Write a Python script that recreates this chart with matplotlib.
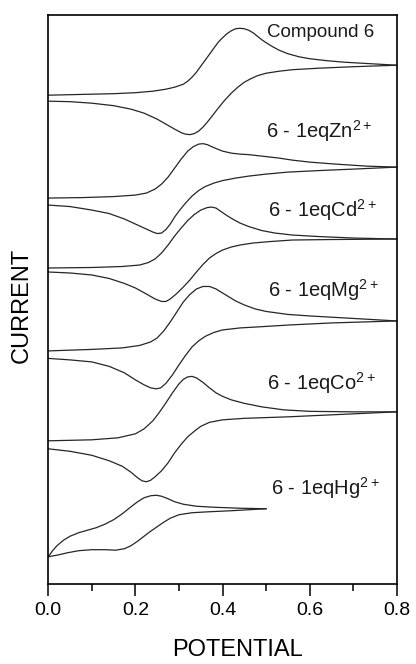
import matplotlib
matplotlib.use('Agg')
import matplotlib.pyplot as plt
from matplotlib.ticker import MultipleLocator

plt.rcParams['font.family'] = ['Liberation Sans', 'DejaVu Sans']
plt.rcParams['mathtext.default'] = 'regular'

# cyclic voltammograms, stacked (current in arbitrary units incl. offset)
# forward scan (upper branch) and reverse scan (lower branch) for each sample
labels = ['Compound 6', '6 - 1eqZn$^{2+}$', '6 - 1eqCd$^{2+}$',
          '6 - 1eqMg$^{2+}$', '6 - 1eqCo$^{2+}$', '6 - 1eqHg$^{2+}$']

# Compound 6
c6_up_x = [0.0, 0.05, 0.10, 0.15, 0.20, 0.24, 0.27, 0.29, 0.31, 0.32, 0.33, 0.34, 0.35, 0.36,
           0.37, 0.38, 0.39, 0.40, 0.41, 0.42, 0.43, 0.44, 0.45, 0.46, 0.47, 0.48, 0.49, 0.50,
           0.515, 0.53, 0.55, 0.575, 0.6, 0.64, 0.68, 0.74, 0.8]
c6_up_y = [489, 489.5, 490, 490.5, 491.5, 493, 495, 497, 500, 503, 507, 512, 518, 524,
           530, 536, 542, 546.5, 550.5, 553.5, 555.5, 556, 555.5, 554, 551.5, 548, 544.5, 541.5,
           537.5, 534, 530.5, 527.5, 525.5, 523.5, 522, 520.5, 519]
c6_dn_x = [0.0, 0.05, 0.10, 0.15, 0.19, 0.22, 0.25, 0.27, 0.29, 0.305, 0.315, 0.325, 0.335,
           0.345, 0.355, 0.365, 0.375, 0.39, 0.405, 0.42, 0.435, 0.45, 0.465, 0.48, 0.50,
           0.53, 0.56, 0.62, 0.7, 0.8]
c6_dn_y = [483, 482.5, 481, 478.5, 475, 471, 465, 460, 455, 451.5, 450, 449.5, 450.5,
           453, 457, 462, 467.5, 476, 484, 491, 497, 502, 505.5, 508.5, 511,
           513, 514.5, 516, 517.5, 519]

# 6 + Zn2+
zn_up_x = [0.0, 0.08, 0.15, 0.20, 0.225, 0.245, 0.26, 0.275, 0.29, 0.305, 0.32, 0.333, 0.345,
           0.355, 0.365, 0.38, 0.40, 0.42, 0.44, 0.46, 0.48, 0.50, 0.53, 0.56, 0.60, 0.66,
           0.73, 0.8]
zn_up_y = [386, 386.5, 387.5, 389, 391, 395, 400, 407, 416, 425, 433, 437.5, 440,
           440.5, 439.5, 436.5, 433, 431, 430, 429.5, 428.5, 427.5, 426, 424, 422, 420,
           418, 417]
zn_dn_x = [0.0, 0.05, 0.10, 0.14, 0.175, 0.20, 0.22, 0.24, 0.25, 0.26, 0.27, 0.28, 0.29,
           0.30, 0.315, 0.33, 0.345, 0.36, 0.38, 0.40, 0.43, 0.46, 0.50, 0.55, 0.62, 0.7, 0.8]
zn_dn_y = [379, 377.5, 374, 370.5, 365, 360, 356, 352, 350.5, 351, 354.5, 360, 367,
           373, 381, 388, 393.5, 397.5, 401, 403.5, 406, 408, 410, 412, 413.5, 415, 417]

# 6 + Cd2+
cd_up_x = [0.0, 0.10, 0.17, 0.21, 0.23, 0.245, 0.26, 0.275, 0.29, 0.305, 0.32, 0.335, 0.35,
           0.365, 0.375, 0.385, 0.395, 0.41, 0.425, 0.44, 0.46, 0.49, 0.52, 0.56, 0.62,
           0.7, 0.8]
cd_up_y = [316, 316.5, 317.5, 319, 321.5, 325, 331, 339, 348, 356, 363.5, 369.5, 374,
           376.5, 377, 376, 373, 368.5, 364.5, 361, 357.5, 353.5, 351, 349, 347.5,
           346, 345]
cd_dn_x = [0.0, 0.05, 0.10, 0.14, 0.175, 0.20, 0.225, 0.245, 0.26, 0.27, 0.28, 0.295, 0.31,
           0.325, 0.34, 0.355, 0.37, 0.385, 0.40, 0.42, 0.44, 0.47, 0.51, 0.56, 0.65, 0.8]
cd_dn_y = [312, 311, 309, 305.5, 300.5, 296, 290, 285, 282.5, 282.5, 285, 290.5, 297,
           304, 312, 319.5, 326, 330.5, 334, 337, 339, 341, 342.5, 344, 344.5, 345]

# 6 + Mg2+
mg_up_x = [0.0, 0.10, 0.17, 0.21, 0.235, 0.25, 0.265, 0.28, 0.295, 0.31, 0.325, 0.34, 0.355,
           0.37, 0.385, 0.40, 0.415, 0.43, 0.45, 0.475, 0.50, 0.55, 0.6, 0.7, 0.8]
mg_up_y = [233, 234.5, 236, 238.5, 242, 246, 253, 262, 272, 282, 289.5, 295, 297.5,
           297.5, 295, 291, 287, 283, 279, 275, 272.5, 269.5, 268, 265.5, 263]
mg_dn_x = [0.0, 0.05, 0.10, 0.14, 0.175, 0.20, 0.22, 0.235, 0.248, 0.258, 0.27, 0.285, 0.30,
           0.315, 0.33, 0.345, 0.36, 0.38, 0.40, 0.44, 0.48, 0.555, 0.65, 0.8]
mg_dn_y = [225.5, 224, 222, 217.5, 211, 204, 199, 196, 195, 196, 200.5, 209, 219,
           228.5, 237, 243, 247.5, 251.5, 254, 256, 257, 259, 261, 263]

# 6 + Co2+
co_up_x = [0.0, 0.10, 0.16, 0.20, 0.22, 0.24, 0.255, 0.27, 0.285, 0.30, 0.31, 0.32, 0.33,
           0.34, 0.355, 0.37, 0.385, 0.40, 0.42, 0.45, 0.49, 0.54, 0.6, 0.7, 0.8]
co_up_y = [143, 144, 146, 150, 155, 163, 171.5, 181, 191, 200, 204.5, 207, 207.5,
           206, 201.5, 196, 191, 187.5, 184, 180.5, 177, 174, 172.5, 172, 172]
co_dn_x = [0.0, 0.05, 0.10, 0.14, 0.17, 0.19, 0.205, 0.215, 0.225, 0.235, 0.245, 0.26, 0.275,
           0.29, 0.305, 0.32, 0.335, 0.35, 0.37, 0.40, 0.45, 0.55, 0.65, 0.8]
co_dn_y = [135, 132.5, 128.5, 123, 117.5, 111.5, 106, 103, 102, 103.5, 107, 113, 121,
           131, 139.5, 147, 152.5, 157.5, 161.5, 164, 165.5, 167, 169, 172]

# 6 + Hg2+
hg_up_x = [0.0, 0.01, 0.02, 0.035, 0.05, 0.07, 0.09, 0.11, 0.13, 0.15, 0.17, 0.19, 0.205,
           0.22, 0.235, 0.248, 0.26, 0.275, 0.29, 0.31, 0.34, 0.38, 0.44, 0.5]
hg_up_y = [27, 33, 38, 43.5, 47.5, 51, 53.5, 56, 59.5, 64, 70, 77, 82,
           86, 88, 88.5, 87.5, 85, 82, 79.5, 77.5, 76.5, 75.5, 75]
hg_dn_x = [0.0, 0.02, 0.045, 0.07, 0.10, 0.13, 0.155, 0.175, 0.19, 0.205, 0.22, 0.235, 0.25,
           0.265, 0.28, 0.30, 0.33, 0.37, 0.42, 0.46, 0.5]
hg_dn_y = [27, 28.5, 31, 33, 34, 34, 33.5, 35, 38, 42.5, 47.5, 52.5, 57,
           61.5, 65.5, 69, 71, 72, 73, 74, 75]

curves = [(c6_up_x, c6_up_y, c6_dn_x, c6_dn_y),
          (zn_up_x, zn_up_y, zn_dn_x, zn_dn_y),
          (cd_up_x, cd_up_y, cd_dn_x, cd_dn_y),
          (mg_up_x, mg_up_y, mg_dn_x, mg_dn_y),
          (co_up_x, co_up_y, co_dn_x, co_dn_y),
          (hg_up_x, hg_up_y, hg_dn_x, hg_dn_y)]

fig = plt.figure(figsize=(4.16, 6.64), dpi=100)
ax = fig.add_axes([0.116, 0.121, 0.838, 0.856])

for ux, uy, dx, dy in curves:
    ax.plot(ux, uy, color='#262626', lw=0.9, solid_joinstyle='round')
    ax.plot(dx, dy, color='#262626', lw=0.9, solid_joinstyle='round')

# label anchor: right edge, baseline
label_x = [0.748, 0.744, 0.753, 0.76, 0.752, 0.76]
label_y = [547, 446, 367, 287, 194, 89]
for t, lx, ly in zip(labels, label_x, label_y):
    fs = 13.5 if t == 'Compound 6' else 14.5
    ax.text(lx, ly, t, ha='right', va='baseline', fontsize=fs, color='#1a1a1a')

ax.set_xlim(0, 0.8)
ax.set_ylim(0, 569)
ax.xaxis.set_major_locator(MultipleLocator(0.2))
ax.xaxis.set_minor_locator(MultipleLocator(0.1))
ax.tick_params(axis='x', which='major', direction='out', length=8.5, width=1.1,
               labelsize=14, pad=5)
ax.tick_params(axis='x', which='minor', direction='out', length=5, width=1.1)
ax.set_yticks([])
for s in ax.spines.values():
    s.set_linewidth(1.2)

ax.set_xlabel('POTENTIAL', fontsize=17)
ax.xaxis.set_label_coords(0.543, -0.098)
ax.set_ylabel('CURRENT', fontsize=17)
ax.yaxis.set_label_coords(-0.044, 0.49)

fig.savefig('out.png', dpi=100)
